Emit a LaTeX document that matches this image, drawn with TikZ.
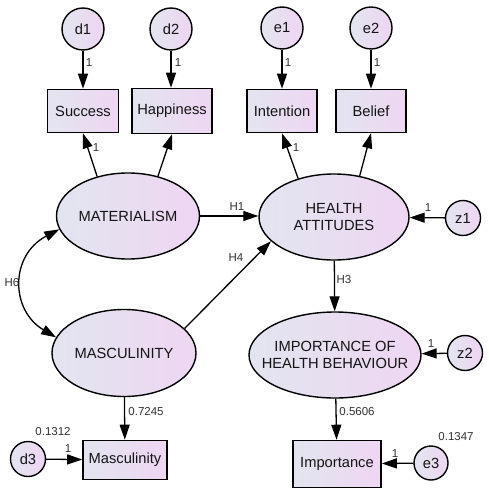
\documentclass[tikz,border=0pt]{standalone}
\usepackage{fontspec}
\setmainfont{Liberation Sans}
\usetikzlibrary{shapes.geometric,arrows.meta}
\definecolor{fillL}{RGB}{226,229,239}
\definecolor{fillR}{RGB}{238,214,242}
\definecolor{txt}{RGB}{20,20,20}
\definecolor{lab}{RGB}{50,50,50}
\begin{document}
\begin{tikzpicture}[x=1pt,y=-1pt,
  bigfont/.style={font=\fontsize{14.7}{17}\selectfont},
  lat/.style={ellipse,draw,line width=1.4pt,left color=fillL,right color=fillR,inner sep=0pt,align=center,text=txt,bigfont},
  obs/.style={rectangle,draw,line width=1.6pt,left color=fillL,right color=fillR,inner sep=0pt,text=txt,bigfont},
  err/.style={circle,draw,line width=1.4pt,left color=fillL,right color=fillR,inner sep=0pt,text=txt,bigfont},
  arr/.style={line width=1.3pt,-{Triangle[length=15pt,width=10pt]}},
  biarr/.style={line width=1.3pt,{Triangle[length=15pt,width=10pt]}-{Triangle[length=15pt,width=10pt]}},
  lbl/.style={font=\fontsize{11.5}{13}\selectfont,text=lab,inner sep=0pt}
]
\fill[white] (0,0) rectangle (488,497);
\useasboundingbox (0,0) rectangle (488,497);

% error circles top
\node[err,minimum size=42pt] (d1) at (83,29) {d1};
\node[err,minimum size=42pt] (d2) at (171,29) {d2};
\node[err,minimum size=42pt] (e1) at (282,28) {e1};
\node[err,minimum size=42pt] (e2) at (371,28) {e2};

% indicator boxes top
\node[obs,minimum width=71pt,minimum height=43pt] (succ) at (83,111) {Success};
\node[obs,minimum width=80pt,minimum height=45pt] (happ) at (172,111) {Happiness};
\node[obs,minimum width=70pt,minimum height=43pt] (int) at (282,111) {Intention};
\node[obs,minimum width=70pt,minimum height=43pt] (bel) at (371,111) {Belief};

% latent variables
\node[lat,minimum width=143pt,minimum height=86pt] (mat) at (128,216) {MATERIALISM};
\node[lat,minimum width=150pt,minimum height=86pt] (ha) at (334,217) {HEALTH\\ATTITUDES};
\node[lat,minimum width=144pt,minimum height=87pt] (masc) at (124,353) {MASCULINITY};
\node[lat,inner xsep=-16pt,minimum width=172pt,minimum height=86pt] (imp) at (335,355) {IMPORTANCE OF\\HEALTH BEHAVIOUR};

% disturbances
\node[err,minimum size=35pt] (z1) at (463,218) {z1};
\node[err,minimum size=35pt] (z2) at (465,353) {z2};

% bottom indicators
\node[obs,minimum width=84pt,minimum height=39pt] (mascobs) at (125,460) {Masculinity};
\node[obs,minimum width=88pt,minimum height=47pt] (impobs) at (337,464) {Importance};
\node[err,minimum size=35pt] (d3) at (28,459) {d3};
\node[err,minimum size=34pt] (e3) at (431,463) {e3};

% connectors
\draw[arr] (d1) -- (succ);
\draw[arr] (d2.south) -- (d2.south |- happ.north);
\draw[arr] (e1) -- (int);
\draw[arr] (e2) -- (bel);
\draw[arr] (mat.128) -- (succ.south);
\draw[arr] (mat.53) -- (happ.south);
\draw[arr] (ha.133) -- (int.south);
\draw[arr] (ha.58) -- (bel.south);
\draw[arr] (mat.east) -- (ha.west |- mat.east);
\draw[arr] (masc.22) -- (ha.201);
\draw[arr] (z1) -- (ha);
\draw[arr] (ha) -- (imp);
\draw[arr] (z2) -- (imp);
\draw[arr] (imp) -- (impobs);
\draw[arr] (e3) -- (impobs);
\draw[arr] (masc) -- (mascobs);
\draw[arr] (d3) -- (mascobs);
\draw[biarr] (mat.191) .. controls (10,255) and (10,310) .. (masc.167);

% labels
\node[lbl] (ld1) at (89,63) {1};
\node[lbl] (ld2) at (178,63) {1};
\node[lbl] (le1) at (288,63) {1};
\node[lbl] (le2) at (377,63) {1};
\node[lbl] (lms) at (96,148) {1};
\node[lbl] (lhi) at (296,148) {1};
\node[lbl] (lH1) at (237,207) {H1};
\node[lbl] (lH4) at (236,258) {H4};
\node[lbl] (lH6) at (12,283) {H6};
\node[lbl] (lz1) at (428,208) {1};
\node[lbl] (lH3) at (344,280) {H3};
\node[lbl] (lz2) at (431,344) {1};
\node[lbl] (l5606) at (357,412) {0.5606};
\node[lbl] (le3) at (395,454) {1};
\node[lbl] (l1347) at (456,437) {0.1347};
\node[lbl] (l7245) at (146,412) {0.7245};
\node[lbl] (ld3) at (68,449) {1};
\node[lbl] (l1312) at (53,432) {0.1312};
\end{tikzpicture}
\end{document}
